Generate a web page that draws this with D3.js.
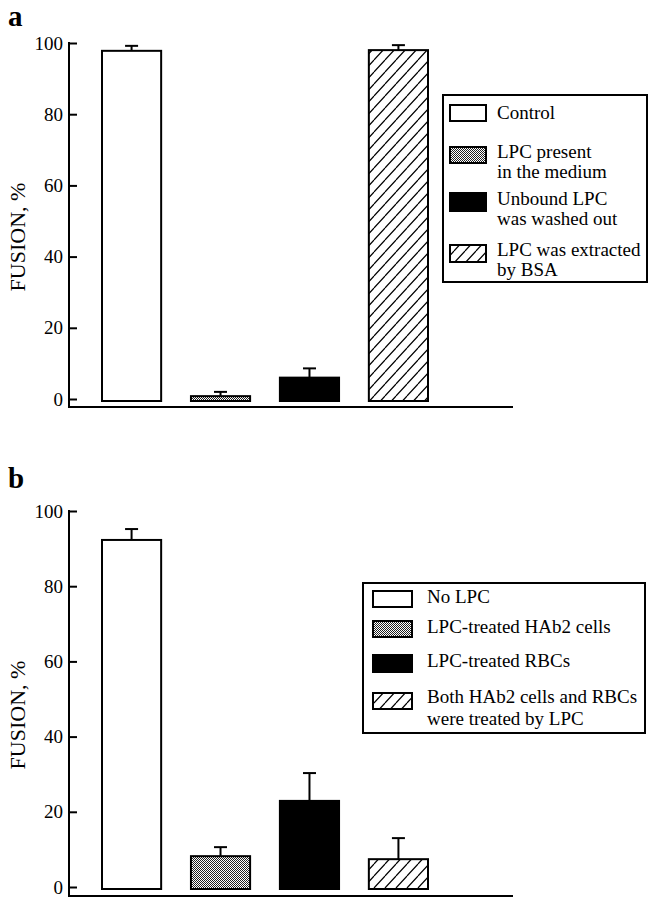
<!DOCTYPE html>
<html>
<head>
<meta charset="utf-8">
<script src="https://cdn.jsdelivr.net/npm/d3@7"></script>
<style>
  body { margin: 0; background: #fff; }
  text { font-family: "Liberation Serif", "Times New Roman", serif; fill: #000; }
</style>
</head>
<body>
<svg id="chart" width="657" height="900"></svg>
<script>
// ---- data ----
const yTicks = [0, 20, 40, 60, 80, 100];
const groups = [0, 1, 2, 3];

const legendA = [["Control"], ["LPC present", "in the medium"], ["Unbound LPC", "was washed out"], ["LPC was extracted", "by BSA"]];
const valuesA = [97.8, 0.8, 6.0, 98.0];
const errorsA = [1.4, 1.2, 2.6, 1.4];

const legendB = [["No LPC"], ["LPC-treated HAb2 cells"], ["LPC-treated RBCs"], ["Both HAb2 cells and RBCs", "were treated by LPC"]];
const valuesB = [92.3, 8.2, 22.9, 7.4];
const errorsB = [2.9, 2.4, 7.4, 5.6];

const svg = d3.select("#chart");
svg.append("rect").attr("width", 657).attr("height", 900).attr("fill", "#fff");

// patterns: stipple + hatch
const defs = svg.append("defs");
const dots = defs.append("pattern")
    .attr("id", "dots")
    .attr("patternUnits", "userSpaceOnUse")
    .attr("width", 2).attr("height", 2);
dots.append("rect").attr("width", 2).attr("height", 2).attr("fill", "#fff");
dots.append("rect").attr("width", 1).attr("height", 1).attr("fill", "#222");
dots.append("rect").attr("x", 1).attr("y", 1).attr("width", 1).attr("height", 1).attr("fill", "#222");

const hw = 11, hh = 12;
const hatch = defs.append("pattern")
    .attr("id", "hatch")
    .attr("patternUnits", "userSpaceOnUse")
    .attr("width", hw).attr("height", hh);
hatch.append("rect").attr("width", hw).attr("height", hh).attr("fill", "#fff");
hatch.append("path")
    .attr("d", `M${-hw},${hh} L0,0 M0,${hh} L${hw},0 M${hw},${hh} L${2 * hw},0`)
    .attr("stroke", "#000")
    .attr("stroke-width", 1.2);

const fills = ["#fff", "url(#dots)", "#000", "url(#hatch)"];

function drawPanel(cfg) {
    const g = svg.append("g");

    const x = d3.scaleBand().domain(groups).range([102, 428]).paddingInner(0.335).paddingOuter(0);
    const y = d3.scaleLinear().domain([0, 100]).range(cfg.yRange);
    const base = y(0) + cfg.baseGap;

    // panel letter
    g.append("text")
        .attr("x", 8).attr("y", cfg.letterY)
        .attr("font-size", 29).attr("font-weight", "bold")
        .text(cfg.letter);

    // y axis (ticks point inward)
    const ax = g.append("g")
        .attr("transform", "translate(69,0)")
        .call(d3.axisLeft(y).tickValues(yTicks).tickSize(-8).tickPadding(6).tickSizeOuter(0));
    ax.select(".domain").remove();
    ax.attr("font-size", 19);
    ax.selectAll(".tick line").attr("stroke", "#000").attr("stroke-width", 2);

    g.append("line")
        .attr("x1", 69).attr("x2", 69)
        .attr("y1", y(100) - 1).attr("y2", base + 1)
        .attr("stroke", "#000").attr("stroke-width", 2);
    g.append("line")
        .attr("x1", 68).attr("x2", 513)
        .attr("y1", base).attr("y2", base)
        .attr("stroke", "#000").attr("stroke-width", 2);

    g.append("text")
        .attr("transform", `translate(25,${(y(0) + y(100)) / 2 + 16}) rotate(-90)`)
        .attr("text-anchor", "middle")
        .attr("font-size", 22)
        .text("FUSION, %");

    // bars
    g.selectAll(".bar")
        .data(cfg.values)
        .join("rect")
        .attr("class", "bar")
        .attr("x", (d, i) => x(i))
        .attr("y", d => y(d))
        .attr("width", x.bandwidth())
        .attr("height", d => y(0) + 2 - y(d))
        .attr("fill", (d, i) => fills[i])
        .attr("stroke", "#000")
        .attr("stroke-width", 2);

    // error bars (upper only)
    const err = g.selectAll(".err")
        .data(cfg.values)
        .join("g")
        .attr("class", "err")
        .attr("stroke", "#000")
        .attr("stroke-width", 2);
    err.append("line")
        .attr("x1", (d, i) => x(i) + x.bandwidth() / 2)
        .attr("x2", (d, i) => x(i) + x.bandwidth() / 2)
        .attr("y1", d => y(d))
        .attr("y2", (d, i) => y(d + cfg.errors[i]));
    err.append("line")
        .attr("x1", (d, i) => x(i) + x.bandwidth() / 2 - 6.5)
        .attr("x2", (d, i) => x(i) + x.bandwidth() / 2 + 6.5)
        .attr("y1", (d, i) => y(d + cfg.errors[i]))
        .attr("y2", (d, i) => y(d + cfg.errors[i]));

    // legend
    const L = cfg.legend;
    const lg = g.append("g").attr("transform", `translate(${L.x},${L.y})`);
    lg.append("rect")
        .attr("width", L.w).attr("height", L.h)
        .attr("fill", "#fff").attr("stroke", "#000").attr("stroke-width", 2);
    cfg.labels.forEach((lines, i) => {
        const row = L.rows[i];
        lg.append("rect")
            .attr("x", L.swX).attr("y", row.top)
            .attr("width", L.swW).attr("height", row.h)
            .attr("fill", fills[i]).attr("stroke", "#000").attr("stroke-width", 2);
        lines.forEach((t, j) => {
            lg.append("text")
                .attr("x", L.textX).attr("y", row.base[j])
                .attr("font-size", 19)
                .text(t);
        });
    });
}

drawPanel({
    letter: "a", letterY: 26,
    yRange: [399, 43], baseGap: 8,
    values: valuesA, errors: errorsA, labels: legendA,
    legend: {
        x: 443, y: 95, w: 204, h: 187, swX: 7, swW: 36, textX: 54,
        rows: [
            { top: 10, h: 16, base: [24] },
            { top: 52, h: 16, base: [63, 83] },
            { top: 98, h: 18, base: [110, 130] },
            { top: 150, h: 17, base: [161, 181] }
        ]
    }
});

drawPanel({
    letter: "b", letterY: 488,
    yRange: [887, 511], baseGap: 9,
    values: valuesB, errors: errorsB, labels: legendB,
    legend: {
        x: 363, y: 583, w: 282, h: 150, swX: 10, swW: 39, textX: 64,
        rows: [
            { top: 8, h: 16, base: [20] },
            { top: 38, h: 16, base: [50] },
            { top: 72, h: 17, base: [84] },
            { top: 110, h: 16, base: [120, 142] }
        ]
    }
});
</script>
</body>
</html>
